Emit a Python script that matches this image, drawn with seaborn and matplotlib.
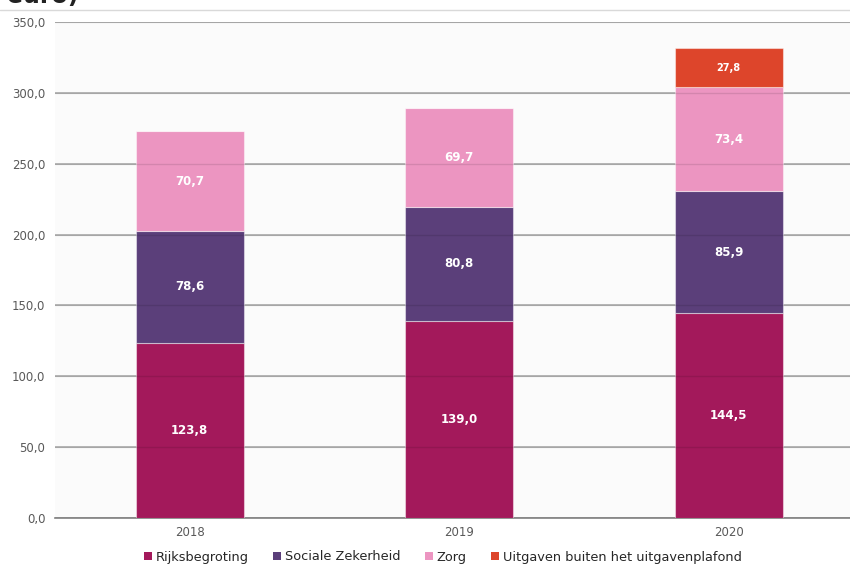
import matplotlib
matplotlib.use("Agg")
import matplotlib.pyplot as plt
import seaborn as sns
from matplotlib.patches import Patch
from matplotlib.lines import Line2D
from matplotlib.ticker import FuncFormatter

years = ["2018", "2019", "2020"]
series = ["Rijksbegroting", "Sociale Zekerheid", "Zorg", "Uitgaven buiten het uitgavenplafond"]
rijks = [123.8, 139.0, 144.5]
sociaal = [78.6, 80.8, 85.9]
zorg = [70.7, 69.7, 73.4]
buiten = [0.0, 0.0, 27.8]
colors = ["#A3195B", "#5B3F7A", "#EC95C1", "#DD452B"]

sns.set_style("white")
plt.rcParams["font.family"] = ["DejaVu Sans"]

fig = plt.figure(figsize=(8.5, 5.66), dpi=100)
ax = fig.add_axes([55 / 850, 48 / 566, 795 / 850, 496 / 566])
ax.set_facecolor("#FBFBFB")

bottoms = [0.0, 0.0, 0.0]
for name, vals, col in zip(series, [rijks, sociaal, zorg, buiten], colors):
    sns.barplot(x=years, y=vals, bottom=bottoms, color=col, width=0.4,
                saturation=1, ax=ax, zorder=3, edgecolor=(1, 1, 1, 0.45),
                linewidth=0.8)
    for i, v in enumerate(vals):
        if v > 0:
            fs = 7 if v < 40 else 8.5
            ax.text(i, bottoms[i] + v / 2, f"{v:.1f}".replace(".", ","),
                    ha="center", va="center", color="white", fontsize=fs,
                    fontweight="bold", zorder=4)
    bottoms = [b + v for b, v in zip(bottoms, vals)]

ax.set_ylim(0, 350)
ax.set_xlim(-0.5, 2.45)
ax.set_yticks(range(0, 351, 50))
ax.yaxis.set_major_formatter(FuncFormatter(lambda v, p: f"{v:.1f}".replace(".", ",")))
ax.yaxis.grid(True, color="#A6A6A6", linewidth=1.1, zorder=0)
ax.set_axisbelow(True)
# faint grid lines that show through the bars
for t in range(50, 351, 50):
    ax.axhline(t, color="black", alpha=0.1, linewidth=1, zorder=3.5)
for s in ["top", "right", "left"]:
    ax.spines[s].set_visible(False)
ax.spines["bottom"].set_color("#808080")
ax.spines["bottom"].set_linewidth(1.2)
ax.tick_params(axis="both", colors="#595959", labelsize=8.5, length=0, pad=6)
ax.tick_params(axis="y", pad=7)
ax.set_xlabel("")
ax.set_ylabel("")

handles = [Patch(facecolor=c, edgecolor="none") for c in colors]
fig.legend(handles, series, loc="center", bbox_to_anchor=(443 / 850, 1 - 557 / 566),
           ncol=4, frameon=False, fontsize=9.3, handlelength=0.6, handleheight=0.6,
           handletextpad=0.3, columnspacing=1.9)

fig.add_artist(Line2D([0, 1], [1 - 10 / 566, 1 - 10 / 566], color="#D9D9D9", linewidth=1))
fig.text(0.008, 1 - 2.5 / 566, "euro)", fontsize=17, fontweight="bold", color="#222222",
         va="baseline", ha="left")

fig.savefig("out.png", dpi=100)
